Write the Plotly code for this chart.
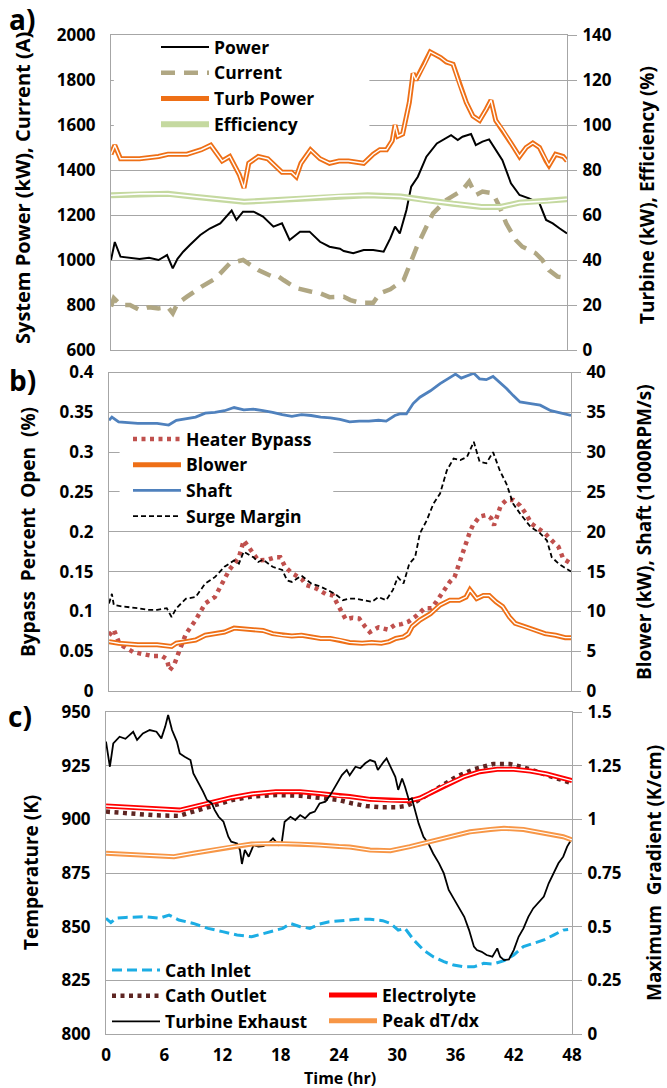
import plotly.graph_objects as go

W, H = 667, 1088

# ---------------- data ----------------
HOURS_TICKS = [0, 6, 12, 18, 24, 30, 36, 42, 48]

# panel a
POWER = [(0, 1000), (0.4, 1080), (1, 1015), (2, 1010), (3, 1005), (4, 1010), (5, 1000), (5.9, 1022), (6.5, 963),
         (7, 1005), (7.6, 1037), (8.3, 1067), (9.4, 1111), (10.4, 1140), (11.5, 1163), (12.7, 1220), (13.2, 1178),
         (13.9, 1215), (15, 1215), (16, 1193), (17.1, 1148), (18, 1163), (18.8, 1089), (19.9, 1126), (20.9, 1126),
         (22, 1081), (23, 1059), (24.1, 1050), (24.5, 1040), (25.5, 1030), (26.6, 1044), (27.6, 1044), (28.7, 1037),
         (29.4, 1096), (29.9, 1148), (30.4, 1118), (31.1, 1222), (31.6, 1326), (32.3, 1370), (33.2, 1459),
         (34.3, 1518), (35.8, 1555), (36.5, 1533), (37, 1548), (37.9, 1560), (38.4, 1511), (39.1, 1526),
         (39.8, 1536), (40.5, 1489), (41.2, 1444), (42.1, 1341), (43, 1289), (44, 1274), (45.1, 1252),
         (45.8, 1178), (46.5, 1163), (47.2, 1141), (48, 1118)]
CURRENT = [(0, 793), (0.3, 830), (1, 800), (2, 800), (3, 778), (4, 790), (5, 785), (6, 790), (6.5, 763), (7, 807),
           (8, 837), (9.5, 881), (11, 918), (12.5, 985), (13.9, 1000), (14.5, 985), (15.5, 955), (17, 926),
           (17.5, 930), (18.2, 910), (19.5, 875), (21, 860), (22, 852), (23, 835), (24.5, 837), (25.2, 822),
           (26.2, 810), (27.6, 810), (28.3, 852), (29.4, 870), (30.8, 911), (31.5, 985), (32.2, 1059), (33.2, 1148),
           (33.9, 1207), (35.3, 1267), (36.4, 1296), (37, 1311), (37.7, 1348), (38.4, 1289), (39.1, 1304),
           (40.2, 1296), (40.9, 1237), (41.6, 1163), (42.6, 1089), (43.3, 1059), (44.7, 1030), (45.4, 1000),
           (46.1, 955), (47, 926), (48, 920)]
TURB_POWER = [(0, 87), (0.4, 91), (1, 85), (3, 85), (5, 86), (6, 87), (8, 87), (9.5, 89), (10.5, 91), (11, 88),
              (11.7, 84), (12.5, 86), (13.5, 78), (14, 72), (14.5, 83), (15.5, 86), (16.5, 85), (17.5, 81), (18, 79),
              (19, 79), (19.5, 77), (20, 83), (21, 89), (22, 85), (23, 83), (24, 84), (25, 84), (26.6, 83),
              (27.6, 87), (28.3, 89), (29, 89), (29.6, 93), (29.9, 100), (30.2, 95), (30.7, 96), (31.4, 110),
              (31.8, 123), (32.1, 120), (33, 127), (33.6, 132.5), (34.7, 130), (35.3, 128), (36, 127), (36.7, 118),
              (37.4, 110), (38.1, 104), (38.8, 102), (39.5, 107), (40, 111), (40.5, 102), (41.2, 98), (42.1, 92),
              (43, 86), (43.7, 90), (44.4, 92), (45.1, 90), (45.8, 84), (46.1, 82), (46.8, 87), (47.6, 86), (48, 84)]
EFFICIENCY = [(0, 68.8), (3, 69.4), (6, 69.4), (9, 68), (12, 66.6), (14, 65.9), (16, 66.3), (19, 67), (22, 68),
              (24, 68.5), (27, 68.8), (30.5, 68.2), (33, 66.6), (36, 65), (39, 63.6), (41, 63.6), (43, 65.5),
              (46, 66.2), (48, 67)]

# panel b
HEATER_BYPASS = [(0, 0.070), (0.5, 0.077), (1, 0.062), (1.5, 0.056), (2.5, 0.049), (3.5, 0.047), (4.5, 0.044),
                 (5.5, 0.044), (6, 0.040), (6.3, 0.026), (6.8, 0.034), (7.2, 0.047), (8, 0.072), (9, 0.089),
                 (10, 0.110), (11, 0.118), (11.8, 0.135), (12.5, 0.152), (13.5, 0.168), (14, 0.189), (14.5, 0.181),
                 (15.5, 0.164), (16.5, 0.165), (17.3, 0.168), (17.8, 0.168), (18.3, 0.156), (19, 0.148), (20, 0.141),
                 (20.5, 0.133), (21.5, 0.129), (22.5, 0.122), (23.3, 0.120), (23.7, 0.110), (24.1, 0.102),
                 (24.6, 0.090), (25.3, 0.092), (26, 0.091), (26.6, 0.081), (27.1, 0.074), (28, 0.080), (29, 0.077),
                 (29.7, 0.083), (30.4, 0.084), (31.1, 0.087), (32, 0.095), (32.8, 0.104), (33.5, 0.104),
                 (34, 0.112), (34.7, 0.125), (35.4, 0.137), (35.9, 0.143), (36.5, 0.164), (36.8, 0.177),
                 (37.1, 0.189), (37.5, 0.200), (37.8, 0.208), (38.5, 0.219), (39.2, 0.221), (39.7, 0.217),
                 (40, 0.208), (40.4, 0.221), (40.7, 0.233), (41.3, 0.240), (42, 0.240), (42.7, 0.233), (43.3, 0.223),
                 (43.9, 0.210), (44.6, 0.204), (45.3, 0.198), (46, 0.189), (46.7, 0.181), (47.2, 0.166), (48, 0.160)]
BLOWER = [(0, 6.2), (1, 6.0), (3, 5.8), (5, 5.8), (6.5, 5.6), (7, 6.0), (8, 6.2), (9, 6.4), (10, 7.0), (11, 7.2),
          (12, 7.4), (13, 7.9), (14, 7.8), (15, 7.7), (16, 7.6), (17, 7.2), (18, 7.0), (19, 6.9), (20, 7.0),
          (21, 6.8), (22, 6.6), (23, 6.6), (24, 6.4), (25, 6.1), (26.3, 6.0), (27.3, 6.1), (28.3, 6.0), (29.1, 6.2),
          (29.8, 6.6), (30.6, 6.8), (31.1, 7.2), (31.5, 8.1), (32.3, 8.9), (33.4, 9.7), (34.4, 10.8), (35.4, 11.4),
          (36.4, 11.4), (37.1, 11.8), (37.5, 12.7), (38.2, 11.6), (38.9, 12.0), (39.5, 12.0), (40.2, 11.2),
          (40.9, 10.6), (41.6, 9.3), (42.2, 8.5), (43.2, 8.1), (44.3, 7.6), (45.3, 7.2), (46.4, 7.0), (47.4, 6.7),
          (48, 6.7)]
SHAFT = [(0, 34.0), (0.3, 34.4), (1, 33.8), (3, 33.6), (5, 33.6), (6.2, 33.4), (7, 34.0), (9, 34.4), (10, 34.9),
         (11, 35.0), (12, 35.2), (13, 35.6), (14, 35.3), (15, 35.4), (16, 35.2), (17, 35.0), (18, 34.7), (19, 34.5),
         (20, 34.7), (21, 34.6), (22, 34.4), (23, 34.3), (24, 34.1), (25, 33.8), (26, 33.9), (27, 33.9), (28, 34.0),
         (28.8, 33.9), (29.7, 34.6), (30.2, 34.8), (30.9, 34.8), (31.6, 36.1), (32.3, 36.9), (33.4, 37.7),
         (34.4, 38.6), (35.3, 39.3), (36, 39.8), (36.6, 39.3), (37.3, 39.6), (37.9, 39.9), (38.5, 39.2),
         (39.2, 39.1), (39.9, 39.5), (40.6, 38.8), (41.3, 38.0), (42, 37.1), (42.7, 36.3), (43.8, 36.1),
         (44.8, 35.9), (45.9, 35.2), (46.6, 35.0), (47.2, 34.8), (48, 34.6)]
SURGE_MARGIN = [(0, 0.110), (0.3, 0.122), (0.5, 0.108), (1.5, 0.106), (3, 0.104), (4, 0.102), (5, 0.102), (6, 0.104),
                (6.5, 0.093), (7, 0.104), (8, 0.116), (9, 0.118), (10, 0.135), (11, 0.143), (12, 0.156), (13, 0.164),
                (13.5, 0.160), (14, 0.175), (15, 0.168), (15.5, 0.162), (16, 0.165), (17, 0.156), (18, 0.152),
                (18.5, 0.139), (19, 0.137), (20, 0.145), (21, 0.135), (22, 0.131), (23, 0.125), (23.7, 0.120),
                (24.3, 0.114), (25, 0.116), (25.6, 0.116), (26.3, 0.114), (27.3, 0.112), (28, 0.118), (28.8, 0.114),
                (29.5, 0.127), (30, 0.143), (30.6, 0.135), (31.2, 0.160), (31.8, 0.168), (32.3, 0.198), (33, 0.214),
                (33.7, 0.235), (34.4, 0.248), (35.1, 0.277), (35.8, 0.292), (36.5, 0.290), (37.2, 0.294),
                (37.9, 0.313), (38.5, 0.288), (39.2, 0.286), (39.9, 0.300), (40.6, 0.277), (41.3, 0.260),
                (42, 0.235), (42.7, 0.223), (43.8, 0.206), (44.8, 0.198), (45.5, 0.189), (46, 0.168), (46.7, 0.160),
                (47.2, 0.156), (48, 0.150)]

# panel c
CATH_INLET = [(0, 853.9), (0.5, 851.9), (1, 853.9), (2, 854.3), (4, 854.6), (5.5, 853.9), (6.5, 855.4), (7.5, 853.1),
              (9, 851.5), (10.5, 849.2), (12, 847.7), (13.5, 846.1), (15, 845.3), (16, 846.6), (17, 847.7),
              (18.2, 849.2), (19, 851.5), (20, 850), (21, 849.2), (22, 851.2), (23, 852.3), (24.5, 853),
              (25.8, 853.4), (27.2, 853.4), (28.5, 852.8), (29.3, 851.5), (30.1, 848.4), (30.8, 849.2),
              (31.7, 843.8), (32.7, 839.1), (33.7, 836), (34.8, 833.7), (35.8, 832.1), (36.9, 831.3), (37.9, 831.3),
              (38.9, 832.9), (39.9, 832.6), (41, 834.2), (42, 836.8), (43, 840.7), (44, 842.2), (45.1, 843.8),
              (46.1, 846.1), (47.1, 848.4), (47.6, 848.7)]
CATH_OUTLET = [(0, 903.6), (2, 902.8), (5, 901.9), (7.5, 901.6), (9, 903.6), (11, 906.7), (13, 909), (15, 910.6),
               (17.5, 911.3), (20, 911), (22, 909.8), (24, 909), (25.4, 907.4), (26.8, 906.2), (28.5, 905.6),
               (29.9, 905.6), (30.9, 906.2), (31.9, 908.2), (33.3, 912), (34.4, 915.2), (36.1, 919.9),
               (37.9, 923.3), (39.9, 925.8), (41.6, 925.8), (43.7, 923.3), (45.4, 920.6), (47.1, 918.3), (48, 916.8)]
ELECTROLYTE = [(0, 906.2), (3, 905.6), (5.6, 904.8), (7.6, 904.3), (9, 905.8), (11, 908.2), (13, 910.2), (15, 911.8),
               (17.5, 912.9), (20, 912.9), (22, 912.1), (24, 910.9), (25.1, 910.6), (27.2, 909.3), (29.3, 908.7),
               (31.3, 908.7), (32.3, 909.8), (33.3, 912.1), (35, 916), (36.9, 919.9), (38.5, 922.2), (40.3, 923.3),
               (42, 923.3), (43.7, 922.5), (45.4, 921.1), (47.1, 919.1), (48, 918)]
TURBINE_EXHAUST = [(0, 936.2), (0.4, 924.5), (0.75, 935.4), (1.1, 937), (1.4, 938.5), (2, 937.5), (2.8, 940.8),
                   (3.2, 937), (3.8, 940), (4.5, 941.6), (5.2, 940.8), (5.7, 937.7), (6.1, 943.2), (6.4, 948.6),
                   (6.8, 941.6), (7.3, 936.2), (7.6, 930.7), (8.1, 929.2), (8.7, 927.6), (9, 921.4), (9.3, 919),
                   (9.7, 915.2), (10, 912.9), (10.4, 909), (10.9, 907.4), (11.2, 904.3), (11.6, 901.2), (12.1, 898.9),
                   (12.6, 891.9), (12.9, 889.6), (13.5, 888.8), (13.8, 885.7), (14, 879.2), (14.3, 885.7),
                   (14.7, 882.6), (15.2, 888), (15.7, 887.3), (16.2, 887.5), (16.7, 888.8), (17.2, 891.1),
                   (17.8, 888), (18.1, 889), (18.4, 898.9), (19, 901.2), (19.5, 899.7), (20, 902), (20.5, 900.5),
                   (21, 902.8), (21.5, 903.6), (22, 907.4), (22.6, 908.2), (23.1, 911.3), (23.6, 915.2),
                   (24.3, 920.6), (24.8, 923), (25.1, 920.5), (25.7, 924.5), (26.2, 923.8), (26.7, 926.1),
                   (27.2, 927.6), (27.7, 926.8), (28, 923), (28.6, 926.8), (28.9, 928.4), (29.3, 924.5),
                   (29.8, 919.8), (30.1, 913.7), (30.5, 919), (30.8, 915.2), (31.2, 909), (31.5, 909.8),
                   (31.8, 904.3), (32.2, 898.1), (32.7, 891.9), (33.2, 888.8), (33.7, 884.1), (34.3, 879.5),
                   (34.8, 874.8), (35.3, 867.1), (35.8, 863.2), (36.3, 859.3), (36.9, 854.6), (37.4, 848.4),
                   (37.9, 840.7), (38.2, 839.1), (38.7, 838.3), (39.2, 836.8), (39.8, 836), (40.3, 839.9),
                   (40.6, 836), (41, 834.4), (41.5, 834.7), (42, 839.1), (42.5, 845.3), (43, 849.2), (43.5, 854.6),
                   (44, 858.5), (44.6, 861.6), (45.1, 864), (45.6, 870.2), (46.1, 874.8), (46.6, 879.5),
                   (47.1, 882.6), (47.5, 887.3), (48, 891.1)]
PEAK_DTDX = [(0, 0.842), (3, 0.837), (6, 0.829), (7, 0.826), (9, 0.842), (11, 0.857), (13, 0.873), (15, 0.885),
             (17.5, 0.888), (20, 0.885), (22, 0.88), (24, 0.873), (25.1, 0.871), (27.2, 0.857), (29.3, 0.854),
             (31.3, 0.873), (33.3, 0.896), (35.4, 0.919), (37.5, 0.942), (39.6, 0.953), (41, 0.958), (43, 0.953),
             (45, 0.938), (47.1, 0.919), (48, 0.904)]

A_LEFT_TICKS = [600, 800, 1000, 1200, 1400, 1600, 1800, 2000]
A_RIGHT_TICKS = [0, 20, 40, 60, 80, 100, 120, 140]
B_LEFT_TICKS = [0, 0.05, 0.1, 0.15, 0.2, 0.25, 0.3, 0.35, 0.4]
B_LEFT_LABELS = ["0", "0.05", "0.1", "0.15", "0.2", "0.25", "0.3", "0.35", "0.4"]
B_RIGHT_TICKS = [0, 5, 10, 15, 20, 25, 30, 35, 40]
C_LEFT_TICKS = [800, 825, 850, 875, 900, 925, 950]
C_RIGHT_TICKS = [0, 0.25, 0.5, 0.75, 1, 1.25, 1.5]
C_RIGHT_LABELS = ["0", "0.25", "0.5", "0.75", "1", "1.25", "1.5"]

# ---------------- styling ----------------
FONT = "Open Sans"
GRID = "#a6a6a6"
TICKFONT = dict(family=FONT, size=17, color="black", weight="bold")


def unz(pairs):
    return [p[0] for p in pairs], [p[1] for p in pairs]


fig = go.Figure()


def line(pairs, name, color, width, xa, ya, dash="solid", legend="legend", show=True):
    t, v = unz(pairs)
    fig.add_trace(go.Scatter(x=t, y=v, name=name, mode="lines", xaxis=xa, yaxis=ya,
                             line=dict(color=color, width=width, dash=dash),
                             legend=legend, showlegend=show, hoverinfo="skip"))


def double(pairs, name, color, width, inner, xa, ya, legend="legend", show=True):
    line(pairs, name, color, width, xa, ya, legend=legend, show=show)
    line(pairs, name, "white", inner, xa, ya, legend=legend, show=False)


# panel a
line(POWER, "Power", "black", 2, "x", "y")
line(CURRENT, "Current", "#b0a783", 4.5, "x", "y", dash="14px,9px")
double(TURB_POWER, "Turb Power", "#ee6f16", 5, 1.4, "x", "y2")
double(EFFICIENCY, "Efficiency", "#c5d9a0", 6, 1.6, "x", "y2")

# panel b
line(HEATER_BYPASS, "Heater Bypass", "#c0504d", 4.5, "x2", "y3", dash="4px,4.5px", legend="legend2")
double(BLOWER, "Blower", "#ee6f16", 5, 1.4, "x2", "y4", legend="legend2")
line(SHAFT, "Shaft", "#4f81bd", 2.8, "x2", "y4", legend="legend2")
line(SURGE_MARGIN, "Surge Margin", "black", 1.8, "x2", "y3", dash="5px,3px", legend="legend2")

# panel c
line(CATH_INLET, "Cath Inlet", "#1cade4", 3, "x3", "y5", dash="10px,5px", legend="legend3")
line(CATH_OUTLET, "Cath Outlet", "#5e2522", 4.5, "x3", "y5", dash="4px,4.5px", legend="legend3")
double(ELECTROLYTE, "Electrolyte", "#ff0000", 5, 1.4, "x3", "y5", legend="legend4")
line(TURBINE_EXHAUST, "Turbine Exhaust", "black", 1.8, "x3", "y5", legend="legend3")
double(PEAK_DTDX, "Peak dT/dx", "#f79646", 5, 1.2, "x3", "y6", legend="legend4")


def px_x(px):
    return px / W


def px_y(py):
    return 1 - py / H


# domains (pixel positions of the plot frames)
dom_a = dict(x=[px_x(111), px_x(567)], y=[px_y(350), px_y(35)])
dom_b = dict(x=[px_x(109), px_x(571)], y=[px_y(691), px_y(372.5)])
dom_c = dict(x=[px_x(106), px_x(572)], y=[px_y(1034), px_y(712)])


def xax(dom, anchor, labels):
    return dict(domain=dom["x"], anchor=anchor, range=[0, 48], tickvals=HOURS_TICKS,
                showticklabels=labels, showgrid=False, zeroline=False, showline=True, mirror=True,
                linecolor=GRID, linewidth=1, ticks="", tickfont=TICKFONT, ticklabelstandoff=6)


def yleft(dom, anchor, rng, tv, tt=None):
    d = dict(domain=dom["y"], anchor=anchor, range=rng, tickvals=tv, showgrid=True, gridcolor=GRID,
             gridwidth=1, zeroline=False, showline=True, mirror=True, linecolor=GRID, linewidth=1,
             ticks="", tickfont=TICKFONT, ticklabelstandoff=11)
    if tt is not None:
        d["ticktext"] = tt
    return d


def yright(over, anchor, rng, tv, tt=None):
    d = dict(overlaying=over, anchor=anchor, side="right", range=rng, tickvals=tv, showgrid=False,
             zeroline=False, showline=False, ticks="outside", ticklen=9, tickcolor=GRID, tickwidth=1,
             tickfont=TICKFONT, ticklabelstandoff=2)
    if tt is not None:
        d["ticktext"] = tt
    return d


LEGFONT = dict(family=FONT, size=17.5, color="black", weight="bold")
CLEAR = "rgba(0,0,0,0)"

fig.update_layout(
    width=W, height=H, margin=dict(l=0, r=0, t=0, b=0, pad=0, autoexpand=False),
    paper_bgcolor="white", plot_bgcolor="white",
    xaxis=xax(dom_a, "y", False),
    yaxis=yleft(dom_a, "x", [600, 2000], A_LEFT_TICKS),
    yaxis2=yright("y", "x", [0, 140], A_RIGHT_TICKS),
    xaxis2=xax(dom_b, "y3", False),
    yaxis3=yleft(dom_b, "x2", [0, 0.4], B_LEFT_TICKS, B_LEFT_LABELS),
    yaxis4=yright("y3", "x2", [0, 40], B_RIGHT_TICKS),
    xaxis3=xax(dom_c, "y5", True),
    yaxis5=yleft(dom_c, "x3", [800, 950], C_LEFT_TICKS),
    yaxis6=yright("y5", "x3", [0, 1.5], C_RIGHT_TICKS, C_RIGHT_LABELS),
    legend=dict(x=px_x(156), y=px_y(29), xanchor="left", yanchor="top", bgcolor=CLEAR,
                font=LEGFONT, itemwidth=48, tracegroupgap=0, borderwidth=0),
    legend2=dict(x=px_x(128), y=px_y(421), xanchor="left", yanchor="top", bgcolor=CLEAR,
                 font=LEGFONT, itemwidth=48, tracegroupgap=0, borderwidth=0),
    legend3=dict(x=px_x(107), y=px_y(952), xanchor="left", yanchor="top", bgcolor=CLEAR,
                 font=LEGFONT, itemwidth=48, tracegroupgap=0, borderwidth=0),
    legend4=dict(x=px_x(324), y=px_y(977), xanchor="left", yanchor="top", bgcolor=CLEAR,
                 font=LEGFONT, itemwidth=48, tracegroupgap=0, borderwidth=0),
    showlegend=True,
)

# white areas behind the legends of panels a and b (hide grid lines like the original legend boxes)
fig.add_shape(type="rect", xref="x", yref="y", x0=0.3, x1=27.2, y0=1560, y1=1990,
              fillcolor="white", line=dict(width=0), layer="between")
fig.add_shape(type="rect", xref="x2", yref="y3", x0=1.1, x1=23.3, y0=0.225, y1=0.33,
              fillcolor="white", line=dict(width=0), layer="between")

TITLEFONT = dict(family=FONT, size=19, color="black", weight="bold")


def ann(text, x, y, angle=0, size=19):
    f = dict(TITLEFONT)
    f["size"] = size
    fig.add_annotation(text=text, xref="paper", yref="paper", x=px_x(x), y=px_y(y), showarrow=False,
                       textangle=angle, font=f, xanchor="center", yanchor="middle")


ann("System Power (kW), Current (A)", 22, 188, -90, 20)
ann("Turbine (kW), Efficiency (%)", 647, 195, -90, 19)
ann("Bypass  Percent  Open  (%)", 28, 532, -90, 19)
ann("Blower (kW), Shaft (1000RPM/s)", 644, 532, -90, 19)
ann("Temperature (K)", 31, 873, -90, 19)
ann("Maximum  Gradient (K/cm)", 654, 873, -90, 19)
ann("Time (hr)", 340, 1078, 0, 16)
ann("a)", 22, 19, 0, 28)
ann("b)", 22, 380, 0, 28)
ann("c)", 20, 716, 0, 28)

# remove the default page margin so the 667x1088 figure fills the window exactly
fig.write_html("out.html", config={"displayModeBar": False}, post_script=(
    "document.body.style.margin='0px';"
    "document.documentElement.style.overflow='hidden';"
    "document.body.style.overflow='hidden';"))
